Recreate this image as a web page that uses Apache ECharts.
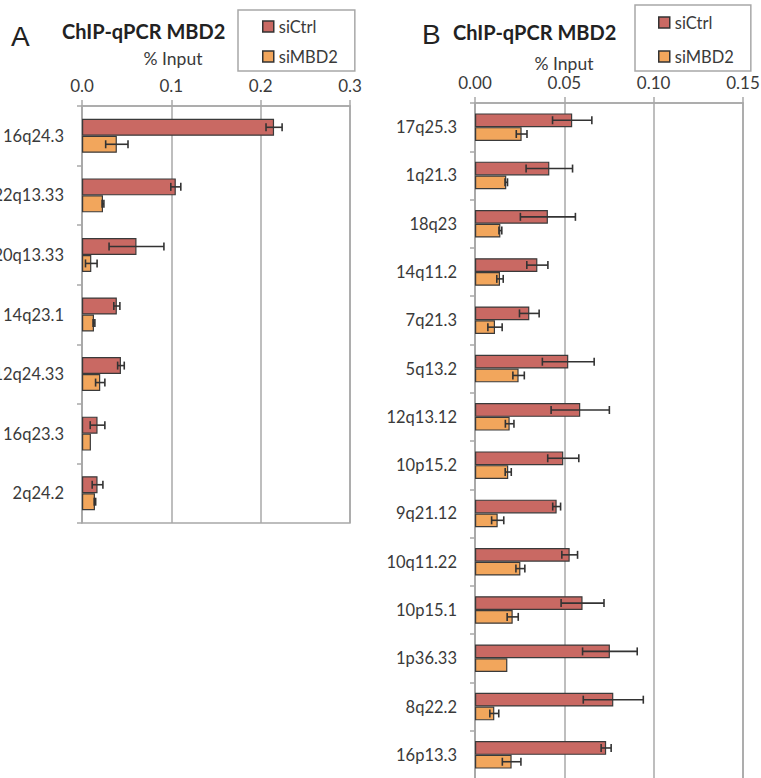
<!DOCTYPE html>
<html>
<head>
<meta charset="utf-8">
<script src="https://cdn.jsdelivr.net/npm/echarts@6/dist/echarts.min.js"></script>
<style>html,body{margin:0;padding:0;background:#fff;}#c{width:761px;height:778px;}</style>
</head>
<body>
<div id="c"></div>
<script>
// ---- Panel A data ----
var catsA = ['16q24.3', '22q13.33', '20q13.33', '14q23.1', '12q24.33', '16q23.3', '2q24.2'];
var ctrlA = [0.215, 0.105, 0.061, 0.039, 0.0436, 0.0174, 0.0174];
var ctrlErrA = [0.009, 0.0056, 0.0307, 0.0034, 0.0037, 0.0082, 0.006];
var mbdA = [0.039, 0.0235, 0.0104, 0.0134, 0.0204, 0.010, 0.0145];
var mbdErrA = [0.0125, 0.001, 0.0065, 0.001, 0.0052, 0, 0.0008];
var ticksA = ['0.0', '0.1', '0.2', '0.3'];

// ---- Panel B data ----
var catsB = ['17q25.3', '1q21.3', '18q23', '14q11.2', '7q21.3', '5q13.2', '12q13.12', '10p15.2', '9q21.12', '10q11.22', '10p15.1', '1p36.33', '8q22.2', '16p13.3'];
var ctrlB = [0.0544, 0.0416, 0.0408, 0.0349, 0.0304, 0.0522, 0.0589, 0.0494, 0.0457, 0.053, 0.0602, 0.0755, 0.0774, 0.0734];
var ctrlErrB = [0.011, 0.013, 0.0154, 0.0059, 0.0055, 0.0145, 0.0163, 0.0087, 0.0022, 0.0044, 0.012, 0.0153, 0.0168, 0.0028];
var mbdB = [0.0261, 0.0175, 0.0142, 0.014, 0.0112, 0.0244, 0.0194, 0.0186, 0.0127, 0.0254, 0.0211, 0.0181, 0.0108, 0.0205];
var mbdErrB = [0.003, 0.0007, 0.0008, 0.0018, 0.004, 0.0032, 0.0024, 0.0017, 0.0034, 0.0025, 0.0031, 0, 0.0025, 0.0052];
var ticksB = ['0.00', '0.05', '0.10', '0.15'];

var seriesNames = ['siCtrl', 'siMBD2'];
var titleText = 'ChIP-qPCR MBD2';
var axisTitle = '% Input';

var RED = '#C96963';
var ORANGE = '#F2A65C';
var EDGE = '#3a3a3a';
var GRIDC = '#A8A8A8';
var TXT = '#3a3a3a';
var FONT = 'Lato';
var GAP = 0.43;

var chart = echarts.init(document.getElementById('c'), null, {renderer: 'svg'});

function errItem(pos) {
  return function (params, api) {
    var cat = api.value(0), v = api.value(1), e = api.value(2);
    if (!e) return null;
    var c = api.coord([v, cat]);
    var band = Math.abs(api.size([0, 1])[1]);
    var bw = band * (1 - GAP) / 2;
    var y = c[1] + (pos === 0 ? -bw / 2 : bw / 2);
    var x1 = api.coord([v - e, cat])[0];
    var x2 = api.coord([v + e, cat])[0];
    var h = 4;
    var st = {stroke: '#333', lineWidth: 1.6};
    return {type: 'group', children: [
      {type: 'line', shape: {x1: x1, y1: y, x2: x2, y2: y}, style: st},
      {type: 'line', shape: {x1: x1, y1: y - h, x2: x1, y2: y + h}, style: st},
      {type: 'line', shape: {x1: x2, y1: y - h, x2: x2, y2: y + h}, style: st}
    ]};
  };
}

function errData(vals, errs) {
  return vals.map(function (v, i) { return [i, v, errs[i]]; });
}

function valueAxis(gi, max, interval, ticks) {
  return {
    type: 'value', gridIndex: gi, position: 'top', min: 0, max: max, interval: interval,
    axisLine: {show: true, lineStyle: {color: GRIDC, width: 1.5}},
    axisTick: {show: true, length: 6, lineStyle: {color: GRIDC, width: 1.5}},
    splitLine: {show: true, lineStyle: {color: GRIDC, width: 1.5}},
    axisLabel: {
      margin: 12, color: TXT, fontFamily: FONT, fontSize: 17,
      formatter: function (val) { return ticks[Math.round(val / interval)]; }
    }
  };
}

function catAxis(gi, cats) {
  return {
    type: 'category', gridIndex: gi, data: cats, inverse: true,
    axisLine: {show: true, lineStyle: {color: GRIDC, width: 1.5}},
    axisTick: {show: true, length: 5, lineStyle: {color: GRIDC, width: 1.5}},
    axisLabel: {margin: 18, color: TXT, fontFamily: FONT, fontSize: 16.5},
    splitLine: {show: false}
  };
}

function barSeries(name, color, xi, data) {
  return {
    name: name, type: 'bar', xAxisIndex: xi, yAxisIndex: xi, data: data,
    barGap: '0%', barCategoryGap: (GAP * 100) + '%',
    itemStyle: {color: color, borderColor: EDGE, borderWidth: 1.2},
    emphasis: {disabled: true}
  };
}

function errSeries(xi, vals, errs, pos) {
  return {
    name: 'err' + xi + '_' + pos, type: 'custom', xAxisIndex: xi, yAxisIndex: xi,
    renderItem: errItem(pos), data: errData(vals, errs), z: 5,
    encode: {x: 1, y: 0}, silent: true
  };
}

function legendAt(left, top, pad, gap) {
  return {
    data: seriesNames, orient: 'vertical', left: left, top: top, padding: pad, itemGap: gap,
    icon: 'rect', itemWidth: 11, itemHeight: 11,
    itemStyle: {borderColor: '#333', borderWidth: 1.5},
    borderColor: GRIDC, borderWidth: 1.5,
    textStyle: {color: TXT, fontFamily: FONT, fontSize: 16.5},
    selectedMode: false
  };
}

function txt(x, y, s, size, weight, align, color, family) {
  return {type: 'text', x: x, y: y, style: {
    text: s, fontSize: size, fontWeight: weight, fontFamily: family || FONT,
    fill: color || '#222', align: align || 'left', verticalAlign: 'middle'
  }};
}

var gridBase = {show: true, borderColor: GRIDC, borderWidth: 1.5, containLabel: false, outerBoundsMode: 'none'};

chart.setOption({
  animation: false,
  backgroundColor: '#fff',
  grid: [
    Object.assign({left: 82, top: 106, width: 268, height: 417}, gridBase),
    Object.assign({left: 475, top: 103, width: 268, height: 676}, gridBase)
  ],
  xAxis: [valueAxis(0, 0.3, 0.1, ticksA), valueAxis(1, 0.15, 0.05, ticksB)],
  yAxis: [catAxis(0, catsA), catAxis(1, catsB)],
  legend: [legendAt(238, 10, [8, 17, 6, 24], 13), legendAt(635, 5, [9, 17, 6, 23], 17)],
  series: [
    barSeries(seriesNames[0], RED, 0, ctrlA),
    barSeries(seriesNames[1], ORANGE, 0, mbdA),
    barSeries(seriesNames[0], RED, 1, ctrlB),
    barSeries(seriesNames[1], ORANGE, 1, mbdB),
    errSeries(0, ctrlA, ctrlErrA, 0),
    errSeries(0, mbdA, mbdErrA, 1),
    errSeries(1, ctrlB, ctrlErrB, 0),
    errSeries(1, mbdB, mbdErrB, 1)
  ],
  graphic: [
    txt(11, 36, 'A', 28, 'normal', 'left', '#222', 'Liberation Sans'),
    txt(62, 31, titleText, 20, 'bold', 'left', '#222'),
    txt(173, 58, axisTitle, 17.5, 'normal', 'center', TXT),
    txt(422, 34, 'B', 28, 'normal', 'left', '#222', 'Liberation Sans'),
    txt(453, 32, titleText, 20, 'bold', 'left', '#222'),
    txt(564, 63, axisTitle, 17.5, 'normal', 'center', TXT)
  ]
});
</script>
</body>
</html>
